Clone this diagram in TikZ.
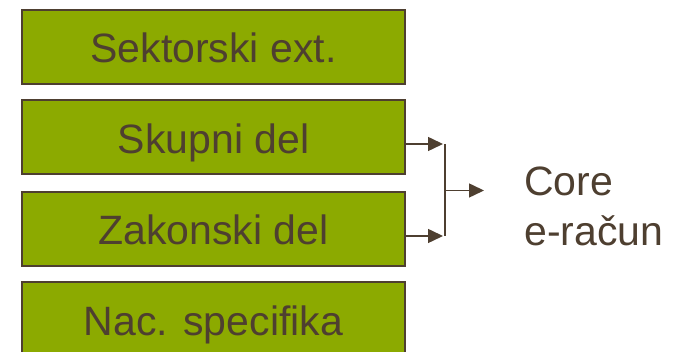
\documentclass[tikz,border=0pt]{standalone}
\usepackage{fontspec}
\setmainfont{Liberation Sans}
\usetikzlibrary{arrows.meta}
\definecolor{boxgreen}{HTML}{8CAA00}
\definecolor{boxbrown}{HTML}{4E3F30}
\begin{document}
\begin{tikzpicture}[x=1pt,y=-1pt,
  blockbox/.style={draw=boxbrown, line width=2pt, fill=boxgreen, text=boxbrown,
    minimum width=383pt, minimum height=74pt, inner sep=0pt,
    font=\fontsize{41}{50}\selectfont, text height=32pt, text depth=0pt},
  flow/.style={draw=boxbrown, line width=1.5pt, -{Triangle[length=15pt,width=14pt]}},
  joint/.style={draw=boxbrown, line width=1.5pt}]
\useasboundingbox (0,0) rectangle (674,352);
\begin{scope}
\clip (0,0) rectangle (674,352);
\node[blockbox] (b1) at (213.5,47) {Sektorski ext.};
\node[blockbox] (b2) at (213.5,137.5) {Skupni del};
\node[blockbox] (b3) at (213.5,229) {Zakonski del};
\node[blockbox] (b4) at (213.5,319) {Nac. specifika};
\end{scope}
\coordinate (jt) at (445,144);
\coordinate (jb) at (445,236);
\coordinate (jm) at (445,190.5);
\coordinate (tip) at (484,190.5);
\node[anchor=north west, inner sep=0pt, align=left, text=boxbrown,
  font=\fontsize{41}{50}\selectfont] (core) at (524,167) {Core\\e-račun};
\draw[flow] ([yshift=-6.5pt]b2.east) -- (443,144);
\draw[flow] ([yshift=-7pt]b3.east) -- (443,236);
\draw[joint] (jt) -- (jb);
\draw[flow] (jm) -- (tip);
\end{tikzpicture}
\end{document}
